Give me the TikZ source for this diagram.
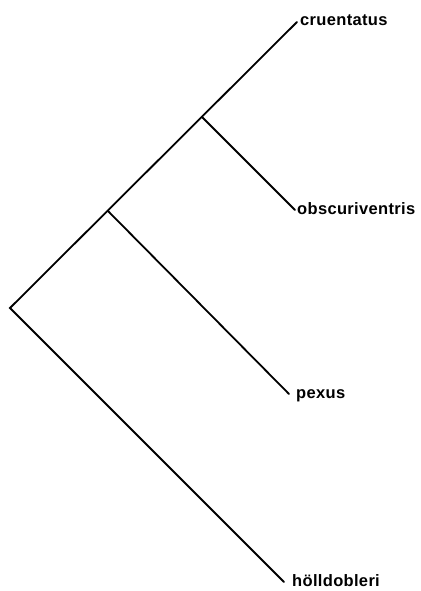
\documentclass[tikz,border=0pt]{standalone}
\usepackage{fontspec}
\setmainfont{Liberation Sans}
\begin{document}
\begin{tikzpicture}[x=1pt,y=-1pt,
  branch/.style={line width=1.8pt,line cap=round,line join=miter},
  taxon/.style={anchor=base west,inner sep=0pt,font=\fontsize{16.5}{18}\selectfont\bfseries\addfontfeature{LetterSpace=2}}]
\useasboundingbox (0,0) rectangle (420,591);
\fill[white] (0,0) rectangle (420,591);
\coordinate (root) at (10,308);
\coordinate (n2) at (108,211);
\coordinate (n3) at (202,117);
\coordinate (tcru) at (297,22);
\coordinate (tobs) at (295,210);
\coordinate (tpex) at (289,394);
\coordinate (thol) at (284,582);
\node[taxon] (cru) at (300,26) {cruentatus};
\node[taxon] (obs) at (297,214) {obscuriventris};
\node[taxon] (pex) at (296,398) {pexus};
\node[taxon] (hol) at (292,586) {hölldobleri};
\draw[branch] (tcru) -- (root) -- (thol);
\draw[branch] (n2) -- (tpex);
\draw[branch] (n3) -- (tobs);
\end{tikzpicture}
\end{document}
